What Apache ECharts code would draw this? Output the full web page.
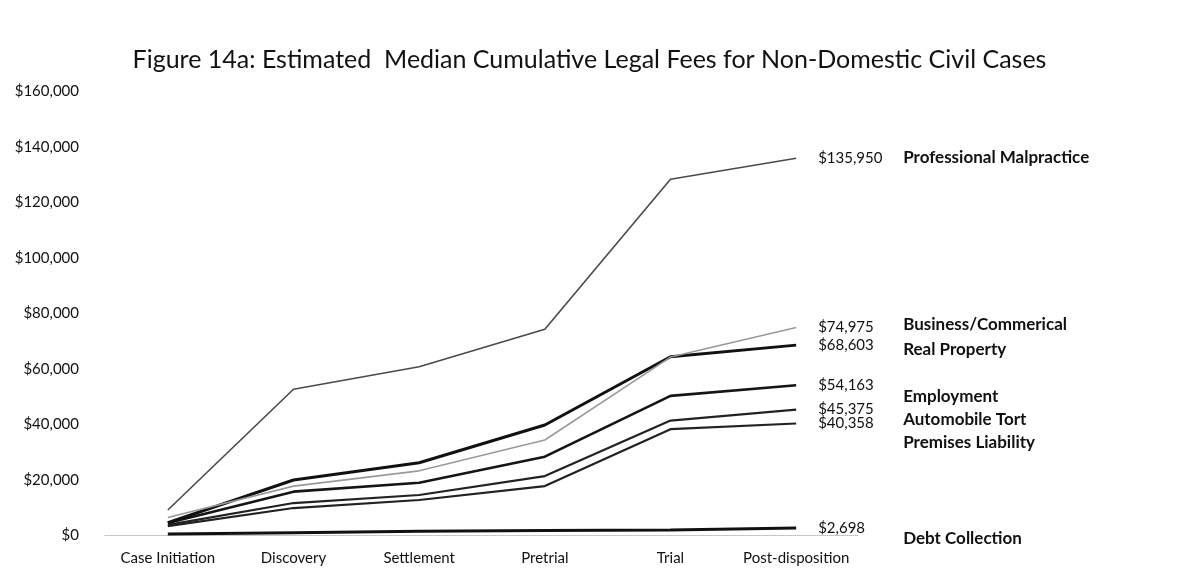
<!DOCTYPE html>
<html>
<head>
<meta charset="utf-8">
<script src="https://cdn.jsdelivr.net/npm/echarts@6/dist/echarts.min.js"></script>
<style>html,body{margin:0;padding:0;background:#fff;}#c{width:1179px;height:570px;}</style>
</head>
<body>
<div id="c"></div>
<script>
const titleText = 'Figure 14a: Estimated  Median Cumulative Legal Fees for Non-Domestic Civil Cases';
const categories = ['Case Initiation', 'Discovery', 'Settlement', 'Pretrial', 'Trial', 'Post-disposition'];
const seriesNames = ['Professional Malpractice', 'Business/Commerical', 'Real Property', 'Employment', 'Automobile Tort', 'Premises Liability', 'Debt Collection'];
const profMalpractice = [9200, 52700, 60800, 74300, 128400, 135950];
const businessCommercial = [6500, 17800, 23300, 34400, 64300, 74975];
const realProperty = [4600, 20000, 26200, 39800, 64400, 68603];
const employment = [4500, 15800, 19000, 28400, 50300, 54163];
const automobileTort = [3800, 11700, 14600, 21400, 41400, 45375];
const premisesLiability = [3400, 9900, 12800, 17800, 38300, 40358];
const debtCollection = [500, 1000, 1500, 1800, 2000, 2698];
const yTicks = [0, 20000, 40000, 60000, 80000, 100000, 120000, 140000, 160000];

const allValues = [profMalpractice, businessCommercial, realProperty, employment, automobileTort, premisesLiability, debtCollection];
// styling (not data)
const lineColors = ['#4a4a4a', '#9a9a9a', '#111111', '#151515', '#222222', '#222222', '#111111'];
const lineWidths = [1.6, 1.6, 3, 2.6, 2.2, 2.2, 3];
const nameDy = [-1, -2.5, 4, 11, 10, 19.5, 11];

const fmt = v => '$' + Number(v).toLocaleString('en-US');
const FONT = 'Lato';

const chart = echarts.init(document.getElementById('c'));
const series = seriesNames.map((n, i) => {
  const vals = allValues[i];
  return {
    name: n,
    type: 'line',
    data: vals,
    symbol: 'none',
    smooth: false,
    z: 10 - i,
    lineStyle: { color: lineColors[i], width: lineWidths[i] },
    endLabel: {
      show: true, distance: 22, formatter: p => fmt(p.value),
      color: '#111', fontFamily: FONT, fontSize: 15
    },
    markPoint: {
      symbol: 'circle', symbolSize: 0, silent: true,
      data: [{ coord: [categories[categories.length - 1], vals[vals.length - 1]] }],
      label: {
        show: true, position: 'right', distance: 0, offset: [107, nameDy[i]],
        formatter: () => n, color: '#111', fontFamily: FONT, fontSize: 17, fontWeight: 'bold'
      }
    }
  };
});

chart.setOption({
  animation: false,
  backgroundColor: '#fff',
  title: {
    text: titleText, left: 'center', top: 42,
    textStyle: { fontFamily: FONT, fontSize: 25, fontWeight: 'normal', color: '#111' }
  },
  grid: { left: 105, right: 320, top: 91.5, bottom: 34.5, containLabel: false },
  xAxis: {
    type: 'category', data: categories, boundaryGap: true,
    axisLine: { show: true, lineStyle: { color: '#bbb', type: 'dotted', width: 1 } },
    axisTick: { show: false },
    axisLabel: { interval: 0, hideOverlap: false, margin: 15, color: '#111', fontFamily: FONT, fontSize: 15 }
  },
  yAxis: {
    type: 'value', min: yTicks[0], max: yTicks[yTicks.length - 1], interval: yTicks[1] - yTicks[0],
    axisLine: { show: false }, axisTick: { show: false }, splitLine: { show: false },
    axisLabel: { margin: 26, color: '#111', fontFamily: FONT, fontSize: 15, formatter: v => fmt(v) }
  },
  series: series
});
</script>
</body>
</html>
